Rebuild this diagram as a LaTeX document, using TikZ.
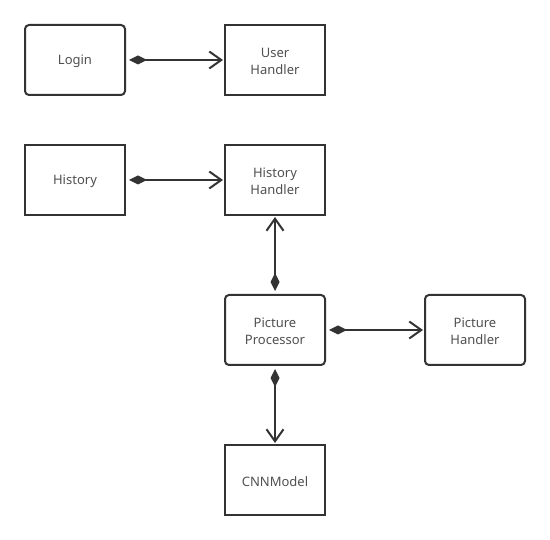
\documentclass[tikz,border=0pt]{standalone}
\usepackage{fontspec}
\setmainfont{Noto Sans}
\usetikzlibrary{arrows.meta}
\definecolor{lnc}{HTML}{333333}
\definecolor{txc}{HTML}{505050}
\tikzset{
  box/.style={draw=lnc, line width=2pt, minimum width=100pt, minimum height=70pt, inner sep=0pt, align=center, text=txc, font=\fontsize{13pt}{16.5pt}\selectfont},
  rbox/.style={box, rounded corners=4pt},
  sbox/.style={box},
  lbl/.style={text=txc, align=center, font=\fontsize{13pt}{16.5pt}\selectfont, inner sep=0pt},
  rel/.style={draw=lnc, line width=2pt, {Diamond[length=18pt,width=9pt]}-{Straight Barb[length=12pt,width=17pt,line width=2pt]}, shorten <=3pt, shorten >=1pt}
}
\begin{document}
\begin{tikzpicture}[x=1pt,y=-1pt]
\useasboundingbox (0,0) rectangle (550,540);
\fill[white] (0,0) rectangle (550,540);
\node[rbox] (login) at (75,60) {};
\node[sbox] (user) at (275,60) {};
\node[sbox] (hist) at (75,180) {};
\node[sbox] (histh) at (275,180) {};
\node[rbox] (proc) at (275,330) {};
\node[rbox] (pich) at (475,330) {};
\node[sbox] (cnn) at (275,480) {};
\node[lbl] (tlogin) at ([yshift=-1.5pt]login.center) {Login};
\node[lbl] (tuser) at ([yshift=-1.5pt]user.center) {User\\Handler};
\node[lbl] (thist) at ([yshift=-1.5pt]hist.center) {History};
\node[lbl] (thisth) at ([yshift=-1.5pt]histh.center) {History\\Handler};
\node[lbl] (tproc) at ([yshift=-1.5pt]proc.center) {Picture\\Processor};
\node[lbl] (tpich) at ([yshift=-1.5pt]pich.center) {Picture\\Handler};
\node[lbl] (tcnn) at ([yshift=-1.5pt]cnn.center) {CNNModel};
\draw[rel] (login) -- (user);
\draw[rel] (hist) -- (histh);
\draw[rel] (proc) -- (histh);
\draw[rel] (proc) -- (pich);
\draw[rel] (proc) -- (cnn);
\end{tikzpicture}
\end{document}
